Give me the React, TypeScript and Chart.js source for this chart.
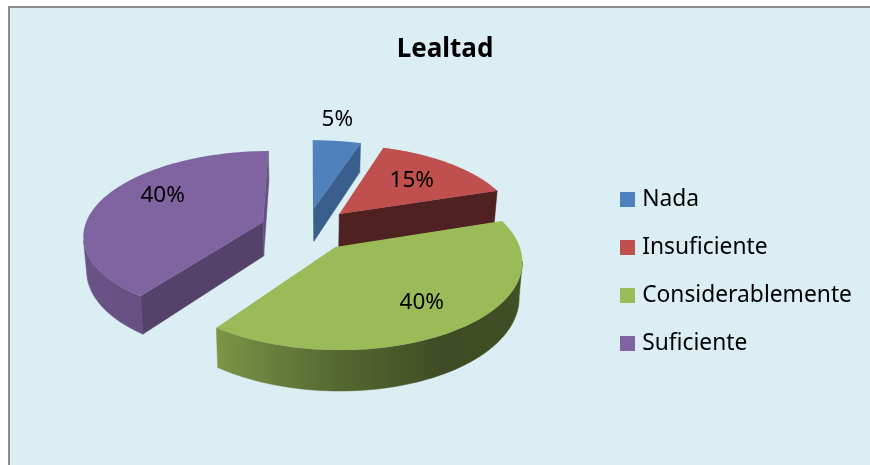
import React, { useEffect, useRef } from "react";
import { Chart, registerables } from "chart.js";

Chart.register(...registerables);

const categories = ["Nada", "Insuficiente", "Considerablemente", "Suficiente"];
const values = [5, 15, 40, 40];
const valueLabels = ["5%", "15%", "40%", "40%"];
const colors = ["#4F81BD", "#C0504D", "#9BBB59", "#8064A2"];
const titleText = "Lealtad";

// label placement relative to each slice, in slice radii and degrees
const labelRadius = [1.37, 0.64, 0.71, 0.7];
const labelAngleShift = [-2, 0, 0, 12];
const drawOrder = [3, 0, 1, 2];

const FONT = "'Noto Sans', sans-serif";
const CX = 307, CY = 229, SX = 179, SY = 83, PERSP = 0.14, DEPTH = 34;

const project = (u: number, v: number) => {
  const s = 1 / (1 - PERSP * v);
  return { x: CX + u * SX * s, y: CY + v * SY * s, s };
};
const lerpTable = (t: number[][], d: number) => {
  for (let i = 1; i < t.length; i++) {
    if (d <= t[i][0]) {
      const k = (d - t[i - 1][0]) / (t[i][0] - t[i - 1][0]);
      return t[i - 1][1] + k * (t[i][1] - t[i - 1][1]);
    }
  }
  return t[t.length - 1][1];
};
const outerShade = [[0, 0.5], [72, 0.5], [90, 0.47], [120, 0.42], [150, 0.4], [180, 0.55], [216, 0.8], [270, 0.85], [360, 0.85]];
const radialShade = [[0, 0.74], [18, 0.74], [72, 0.41], [216, 0.66], [360, 0.8]];
const shade = (hex: string, f: number) => {
  const n = parseInt(hex.slice(1), 16);
  return `rgb(${Math.round(((n >> 16) & 255) * f)},${Math.round(((n >> 8) & 255) * f)},${Math.round((n & 255) * f)})`;
};

const backdrop = {
  id: "backdrop",
  beforeDraw(chart: any) {
    const c = chart.ctx;
    c.save();
    c.fillStyle = "#ffffff";
    c.fillRect(0, 0, chart.width, chart.height);
    c.fillStyle = "#DBEEF4";
    c.fillRect(8, 6, chart.width - 8, chart.height - 6);
    c.strokeStyle = "#8c8c8c";
    c.lineWidth = 2;
    c.beginPath();
    c.moveTo(9, chart.height);
    c.lineTo(9, 7);
    c.lineTo(chart.width, 7);
    c.stroke();
    c.restore();
  },
};

const LEGEND_STROKE = 8.5;

const legendPlace = {
  id: "legendPlace",
  afterLayout(chart: any) {
    const l = chart.legend;
    if (!l) return;
    const p = l.options.labels.padding;
    l.left = 620 + LEGEND_STROKE / 2 - p;
    l.right = l.left + l.width;
    const h = l.height;
    l.top = 271.5 - h / 2;
    l.bottom = l.top + h;
  },
};

const pie3d = {
  id: "pie3d",
  beforeDatasetsDraw(chart: any) {
    const c = chart.ctx;
    const arcs = chart.getDatasetMeta(0).data;
    const low = (o: any) => ({ x: CX + (o.x - CX) * 0.985, y: o.y + DEPTH * o.s });
    const deg = (t: number) => ((t + Math.PI / 2) * 180) / Math.PI;
    drawOrder.forEach((i) => {
      const a = arcs[i];
      const R = a.outerRadius;
      const e = a.options.offset / R;
      const mid = (a.startAngle + a.endAngle) / 2;
      const ax = Math.cos(mid) * e, ay = Math.sin(mid) * e;
      const apex = project(ax, ay);
      const rim: any[] = [];
      const n = 80;
      for (let k = 0; k <= n; k++) {
        const t = a.startAngle + ((a.endAngle - a.startAngle) * k) / n;
        rim.push({ ...project(ax + Math.cos(t), ay + Math.sin(t)), d: deg(t) });
      }
      const color = colors[i];
      const quad = (p: any, q: any, fill: any) => {
        const pl = low(p), ql = low(q);
        c.fillStyle = c.strokeStyle = fill;
        c.lineWidth = 0.5;
        c.beginPath();
        c.moveTo(p.x, p.y);
        c.lineTo(q.x, q.y);
        c.lineTo(ql.x, ql.y);
        c.lineTo(pl.x, pl.y);
        c.closePath();
        c.fill();
        c.stroke();
      };
      const first = rim[0], last = rim[n];
      if (first.x < apex.x) quad(apex, first, shade(color, lerpTable(radialShade, deg(a.startAngle))));
      if (apex.x < last.x) quad(last, apex, shade(color, lerpTable(radialShade, deg(a.endAngle))));
      // outer wall: one shape with a horizontal gradient following the rim
      const vis = rim.filter((p, k) => (k < n ? rim[k + 1].x < p.x : rim[k - 1].x > p.x));
      if (vis.length > 1) {
        const x0 = vis[vis.length - 1].x, x1 = vis[0].x;
        const g = c.createLinearGradient(x0, 0, x1, 0);
        vis.forEach((p) => {
          const k = (p.x - x0) / (x1 - x0 || 1);
          g.addColorStop(Math.min(1, Math.max(0, k)), shade(color, lerpTable(outerShade, p.d)));
        });
        c.fillStyle = c.strokeStyle = g;
        c.lineWidth = 0.5;
        c.beginPath();
        vis.forEach((p, k) => (k ? c.lineTo(p.x, p.y) : c.moveTo(p.x, p.y)));
        [...vis].reverse().forEach((p) => {
          const l = low(p);
          c.lineTo(l.x, l.y);
        });
        c.closePath();
        c.fill();
        c.stroke();
      }
      c.fillStyle = color;
      c.beginPath();
      c.moveTo(apex.x, apex.y);
      rim.forEach((p) => c.lineTo(p.x, p.y));
      c.closePath();
      c.fill();
    });
    c.fillStyle = "#000000";
    c.font = `22.5px ${FONT}`;
    c.textAlign = "center";
    c.textBaseline = "middle";
    arcs.forEach((a: any, i: number) => {
      const R = a.outerRadius;
      const e = a.options.offset / R;
      const mid = (a.startAngle + a.endAngle) / 2;
      const t = mid + (labelAngleShift[i] * Math.PI) / 180;
      const p = project(Math.cos(mid) * e + Math.cos(t) * labelRadius[i], Math.sin(mid) * e + Math.sin(t) * labelRadius[i]);
      c.fillText(valueLabels[i], p.x, p.y);
    });
    return false;
  },
};

export default function App() {
  const ref = useRef<HTMLCanvasElement>(null);
  useEffect(() => {
    document.body.style.margin = "0";
    const chart = new Chart(ref.current as HTMLCanvasElement, {
      type: "pie",
      data: {
        labels: categories,
        datasets: [{ data: values, backgroundColor: colors, borderWidth: 0, offset: 44 }],
      },
      options: {
        animation: false,
        responsive: false,
        layout: { padding: { left: 20 } },
        plugins: {
          tooltip: { enabled: false },
          title: {
            display: true,
            text: titleText,
            color: "#000000",
            font: { family: FONT, size: 26, weight: "bold" },
            padding: { top: 34, bottom: 19 },
          },
          legend: {
            position: "right",
            labels: {
              boxWidth: 15 - LEGEND_STROKE,
              boxHeight: 15 - LEGEND_STROKE,
              padding: 25.2,
              color: "#000000",
              font: { family: FONT, size: 22.8 },
              generateLabels(chart: any) {
                const base = (Chart as any).overrides.pie.plugins.legend.labels.generateLabels(chart);
                return base.map((it: any) => ({ ...it, strokeStyle: it.fillStyle, lineWidth: LEGEND_STROKE }));
              },
            },
          },
        },
      },
      plugins: [backdrop, legendPlace, pie3d],
    } as any);
    return () => chart.destroy();
  }, []);
  return (
    <div style={{ position: "absolute", left: 0, top: 0, width: 870, height: 465, overflow: "hidden" }}>
      <canvas ref={ref} width={870} height={465} style={{ display: "block" }} />
    </div>
  );
}
